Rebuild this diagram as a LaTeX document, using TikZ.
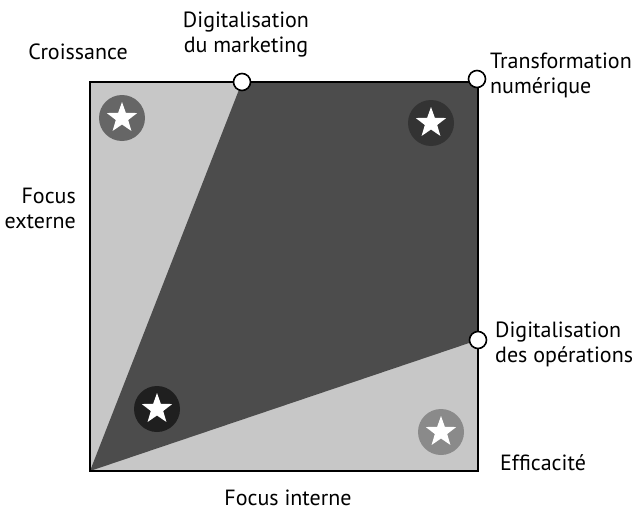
\documentclass[tikz,border=0pt]{standalone}
\usepackage{fontspec}
\setmainfont{PT Sans}
\definecolor{lightzone}{gray}{0.78}
\definecolor{darkzone}{gray}{0.30}
\definecolor{discA}{gray}{0.40}
\definecolor{discB}{gray}{0.20}
\definecolor{discC}{gray}{0.12}
\definecolor{discD}{gray}{0.54}
\begin{document}
\begin{tikzpicture}[x=1pt,y=-1pt,
  lbl/.style={font=\fontsize{22}{25}\selectfont, inner sep=0pt, align=center},
  pin/.style={circle, draw=black, line width=1.6pt, fill=white, minimum size=17pt, inner sep=0pt},
  disc/.style={circle, minimum size=46pt, inner sep=0pt}]
\useasboundingbox (0,0) rectangle (640,511);
% corners of the square
\coordinate (bl) at (90,471);
\coordinate (tr) at (478,82);
% light background and the dark zone between the two digitalisation axes
\fill[lightzone] (bl) rectangle (tr);
\coordinate (mk) at (242,82);
\coordinate (op) at (478,340);
\fill[darkzone] (bl) -- (mk) -- (tr) -- (op) -- cycle;
\draw[line width=1.8pt] (bl) rectangle (tr);
% star badges (y axis points down, so -90 is straight up)
\newcommand{\starbadge}[3]{%
  \node[disc, fill=#3] (#1) at (#2) {};
  \fill[white, shift={(#1.center)}]
    (-90:16) -- (-54:6.5) -- (-18:16) -- (18:6.5) -- (54:16) -- (90:6.5)
    -- (126:16) -- (162:6.5) -- (198:16) -- (234:6.5) -- cycle;}
\starbadge{sTL}{122,118}{discA}
\starbadge{sTR}{431,123}{discB}
\starbadge{sBL}{157,409}{discC}
\starbadge{sBR}{441,432}{discD}
% pins on the axes
\node[pin] (pMk) at (mk) {};
\node[pin] (pTr) at (477,79) {};
\node[pin] (pOp) at (op) {};
% labels
\node[lbl] (croissance) at (78,52) {Croissance};
\node[lbl] (digmk) at (246,35) {Digitalisation\\du marketing};
\node[lbl, anchor=west, align=left] (transfo) at (490,75) {Transformation\\numérique};
\node[lbl, anchor=east, align=right] (fext) at (76,208) {Focus\\externe};
\node[lbl, anchor=west, align=left] (digop) at (495,344) {Digitalisation\\des opérations};
\node[lbl, anchor=west] (effic) at (500,463) {Efficacité};
\node[lbl] (fint) at (288,498) {Focus interne};
\end{tikzpicture}
\end{document}
